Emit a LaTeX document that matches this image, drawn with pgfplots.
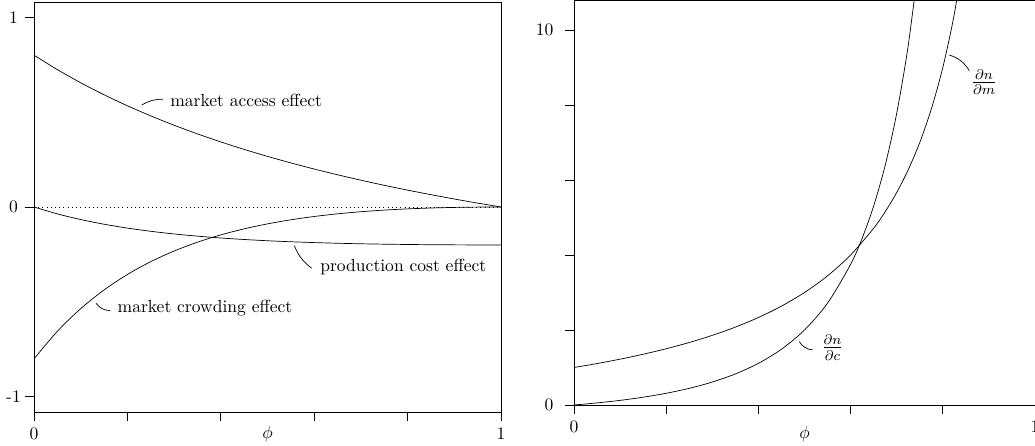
\documentclass[border=0pt]{standalone}
\usepackage{pgfplots}
\pgfplotsset{compat=1.18}
\pgfplotstableread{
phi access crowding production
0    0.8     -0.8     0
0.05 0.7238  -0.6549  -0.0363
0.1  0.6545  -0.5355  -0.0661
0.15 0.5913  -0.4371  -0.0907
0.2  0.5333  -0.3556  -0.1111
0.25 0.48    -0.288   -0.128
0.3  0.4308  -0.2320  -0.1420
0.35 0.3852  -0.1855  -0.1536
0.4  0.3429  -0.1469  -0.1633
0.45 0.3034  -0.1151  -0.1712
0.5  0.2667  -0.0889  -0.1778
0.55 0.2323  -0.0674  -0.1831
0.6  0.2     -0.05    -0.1875
0.65 0.1697  -0.0360  -0.1910
0.7  0.1412  -0.0249  -0.1938
0.75 0.1143  -0.0163  -0.1959
0.8  0.0889  -0.0099  -0.1975
0.85 0.0649  -0.0053  -0.1987
0.9  0.0421  -0.0022  -0.1994
0.95 0.0205  -0.0005  -0.1999
1    0       0        -0.2
}\lefttable
\pgfplotstableread{
phi dndm
0    1
0.05 1.1053
0.1  1.2222
0.15 1.3529
0.2  1.5
0.25 1.6667
0.3  1.8571
0.35 2.0769
0.4  2.3333
0.45 2.6364
0.5  3
0.55 3.4444
0.6  4
0.65 4.7143
0.675 5.1538
0.7  5.6667
0.725 6.2727
0.75 7
0.775 7.8889
0.8  9
0.825 10.4286
0.85 12.3333
}\dndmtable
\pgfplotstableread{
phi dndc
0    0
0.05 0.0554
0.1  0.1235
0.15 0.2076
0.2  0.3125
0.25 0.4444
0.3  0.6122
0.35 0.8284
0.4  1.1111
0.45 1.4876
0.5  2
0.55 2.7160
0.6  3.75
0.625 4.4444
0.65 5.3061
0.675 6.3905
0.7  7.7778
0.725 9.5868
0.75 12
}\dndctable
\begin{document}
\begin{tikzpicture}
\pgfplotsset{every axis/.append style={scale only axis, axis line style={line width=0.4pt}, every tick/.style={black, line width=0.4pt}, major tick length=5.2pt, tick align=outside, xtick pos=left, ytick pos=left}}
\begin{axis}[at={(19.38pt,19.38pt)}, anchor=south west, width=266.19pt, height=233.7pt,
  xmin=0, xmax=1, ymin=-1.08, ymax=1.08,
  xtick={0,0.2,0.4,0.6,0.8,1}, xticklabels={0,,,,,1},
  ytick={-1,0,1}, yticklabels={-1,0,1},
  yticklabel style={anchor=center, xshift=-6.5pt},
  xlabel={$\phi$}, xlabel style={at={(axis description cs:0.5,0)}, anchor=center, yshift=-12.5pt}]
\addplot[dotted, black] coordinates {(0,0) (1,0)};
\addplot[black, smooth] table[x=phi, y=access] {\lefttable};
\addplot[black, smooth] table[x=phi, y=crowding] {\lefttable};
\addplot[black, smooth] table[x=phi, y=production] {\lefttable};
\draw (axis cs:0.2306,0.537) to[bend left=15] (axis cs:0.2762,0.568);
\node[anchor=west, inner sep=0pt] at (axis cs:0.2912,0.563) {market access effect};
\draw (axis cs:0.5574,-0.2037) to[bend right=15] (axis cs:0.5946,-0.3226);
\node[anchor=west, inner sep=0pt] at (axis cs:0.6124,-0.314) {production cost effect};
\draw (axis cs:0.1328,-0.507) to[bend right=25] (axis cs:0.1627,-0.546);
\node[anchor=west, inner sep=0pt] at (axis cs:0.1784,-0.533) {market crowding effect};
\end{axis}
\begin{axis}[at={(327.18pt,23.37pt)}, anchor=south west, width=262.77pt, height=230.85pt,
  xmin=0, xmax=1, ymin=0, ymax=10.8,
  xtick={0,0.2,0.4,0.6,0.8,1}, xticklabels={0,,,,,1},
  ytick={0,2,4,6,8,10}, yticklabels={0,,,,,10},
  yticklabel style={xshift=-3pt},
  xlabel={$\phi$}, xlabel style={at={(axis description cs:0.5,0)}, anchor=center, yshift=-16.5pt}]
\addplot[black, smooth] table[x=phi, y=dndm] {\dndmtable};
\addplot[black, smooth] table[x=phi, y=dndc] {\dndctable};
\draw (axis cs:0.8141,9.333) to[bend left=20] (axis cs:0.8575,8.915);
\node at (axis cs:0.8894,8.61) {\large$\frac{\partial n}{\partial m}$};
\draw (axis cs:0.4887,1.688) to[bend right=25] (axis cs:0.5178,1.467);
\node at (axis cs:0.5607,1.528) {\large$\frac{\partial n}{\partial c}$};
\end{axis}
\pgfresetboundingbox
\path[use as bounding box] (0,0) rectangle (589.95pt,254.22pt);
\end{tikzpicture}
\end{document}
